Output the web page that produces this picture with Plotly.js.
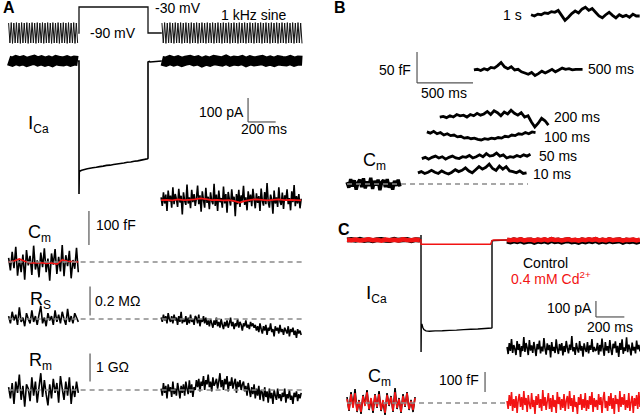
<!DOCTYPE html>
<html>
<head>
<meta charset="utf-8">
<script src="https://cdn.plot.ly/plotly-3.0.1.min.js"></script>
<style>
body { margin: 0; background: #fff; }
#fig { width: 640px; height: 416px; }
</style>
</head>
<body>
<div id="fig"></div>
<script>
// ---- panel A : stimulus (mV) ----
var vmSineLeft = [-67,-113,-66,-114,-67,-113,-66,-113,-67,-114,-66,-113,-67,-113,-66,-114,-67,-113,-66,-113,-67,-114,-66,-113,-67,-113,-66,-114,-67,-113,-66,-113,-67,-114,-66,-113,-67,-113,-66,-114,-67,-113,-66,-113,-67,-114,-66,-113,-67,-113,-66,-114,-67,-113];
var vmSineRight = [-67,-113,-66,-114,-67,-113,-66,-113,-67,-114,-66,-113,-67,-113,-66,-114,-67,-113,-66,-113,-67,-114,-66,-113,-67,-113,-66,-114,-67,-113,-66,-113,-67,-114,-66,-113,-67,-113,-66,-114,-67,-113,-66,-113,-67,-114,-66,-113,-67,-113,-66,-114,-67,-113,-66,-113,-67,-114,-66,-113,-67,-113,-66,-114,-67,-113,-66,-113,-67,-114,-66,-113,-67,-113,-66,-114,-67,-113,-66,-113,-67,-114,-66,-113,-67,-113,-66,-114,-67,-113,-66,-113,-67,-114,-66,-113,-67,-113,-66,-114,-67,-113,-66,-113,-67,-114];
var vmStepT = [-5, 0, 0, 500, 500, 600];
var vmStepV = [-90, -90, -30, -30, -90, -90];

// ---- panel A : I_Ca (pA) ----
var icaBandLeft = [2,-3,4,-1,3,-4,1,5,-2,3,-3,2,-4,4,0,-2,3,-3,2,0];
var icaBandRight = [1,-3,4,-2,3,-4,2,5,-1,3,-5,2,-3,4,1,-2,5,-3,2,-1,4,-4,3,-2,1,4,-3,2,-4,3,0,-2,4,-3,2,1];
var icaPulseT = [-8,0,0,2,8,20,40,60,80,100,125,150,175,200,225,250,275,300,325,350,375,400,425,450,475,497,500,500,510,515,600];
var icaPulseI = [0,0,-554,-462,-458,-455,-452,-449,-447,-445,-443,-440,-438,-435,-434,-431,-429,-427,-425,-422,-421,-418,-416,-413,-410,-407,-405,-4,-2,-4,0];

// ---- panel A : Cm (fF), Rs (MOhm), Rm (GOhm) ----
var cmLeftA = [12,-25,30,-18,45,-40,8,-30,22,-52,35,-10,18,-38,48,-22,5,-45,28,-15,40,-30,10,-55,25,-8,38,-35,15,-28,50,-42,20,-12,33,-48,6,-20,42,-30];
var cmLeftFitA = [0,3,9,2,-3,-3,-2,-4,-3,-6,6,2,1,0];
var cmRightA = [190,165,205,172,198,150,210,178,195,160,220,170,200,185,162,215,175,195,140,205,180,168,228,172,190,158,212,176,200,165,188,225,170,196,148,208,182,160,218,174,192,155,205,180,170,230,165,198,150,210,176,188,160,222,172,200,145,206,184,166,214,178,192,135,200,170,212,162,196,180,224,168,190,152,208,176,198,164,215,185,158,202,174,194,150,216,180,166,206,170,232,176,160,198,184,142,210,172,190,162,220,178,168,204,156,196,182,214,170,188,152,208,176,226,164,194,172,200,158,186];
var cmRightFitA = [182,183,181,184,182,183,184,187,185,182,183,181,182,180,175,180,183,184,183,181,183,184,182,183,182,181];
var rsLeftA = [0.02,-0.03,0.05,-0.01,0.03,-0.04,0.08,-0.02,0.01,-0.05,0.04,0.00,-0.03,0.06,-0.02,0.02,-0.04,0.03,0.09,-0.03,0.01,-0.05,0.04,-0.01,0.02,-0.04,0.06,-0.02,0.03,-0.03,0.05,0.00,-0.04,0.07,-0.02,0.02,-0.03,0.04,0.01,-0.02];
var rsRightA = [0.01,-0.02,0.03,-0.01,0.02,-0.03,0.04,0.00,-0.02,0.02,-0.03,0.03,-0.01,0.01,-0.04,0.02,-0.02,0.05,-0.03,0.00,-0.02,0.02,-0.04,0.01,-0.03,0.03,-0.02,0.00,-0.04,0.02,0.01,-0.03,0.03,-0.05,0.00,-0.02,0.02,-0.03,0.01,-0.04,
    -0.01,-0.05,0.00,-0.03,-0.06,-0.01,-0.04,0.01,-0.05,-0.02,-0.06,0.00,-0.04,-0.07,-0.02,-0.05,-0.01,-0.06,-0.03,0.01,-0.05,-0.02,-0.07,-0.03,-0.05,0.00,-0.06,-0.02,-0.04,-0.08,-0.03,-0.05,-0.01,-0.06,-0.04,-0.07,-0.02,-0.05,-0.03,-0.06,
    -0.04,-0.08,-0.05,-0.09,-0.03,-0.07,-0.10,-0.05,-0.08,-0.04,-0.11,-0.06,-0.08,-0.03,-0.09,-0.07,-0.12,-0.05,-0.08,-0.06,-0.10,-0.04,-0.09,-0.07,-0.11,-0.06,-0.08,-0.10,-0.05,-0.12,-0.07,-0.09,-0.06,-0.11,-0.08,-0.13,-0.07,-0.10,-0.08,-0.11];
var rmLeftA = [0.1,-0.3,0.25,-0.5,0.3,-0.1,0.55,-0.35,0.15,-0.6,0.2,0.05,-0.4,0.45,-0.2,0.3,-0.45,0.1,0.6,-0.25,0.35,-0.15,-0.55,0.2,-0.3,0.4,-0.1,0.25,-0.45,0.5,0.05,-0.35,0.3,-0.2,0.45,-0.5,0.15,-0.25,0.3,-0.1];
var rmRightA = [0.05,-0.2,0.25,-0.1,0.15,-0.3,0.2,-0.05,0.1,-0.25,0.3,-0.15,0.05,-0.2,0.25,0.0,-0.3,0.15,-0.1,0.2,-0.2,0.3,0.05,-0.15,0.35,-0.1,0.2,-0.25,0.1,0.0,
    0.35,0.1,0.4,-0.05,0.3,0.15,0.5,0.0,0.35,0.2,0.55,0.1,0.3,-0.05,0.45,0.15,0.25,0.4,0.05,0.3,0.6,0.1,0.35,0.0,0.4,0.2,0.5,-0.05,0.3,0.15,0.45,0.05,0.25,0.4,-0.1,0.3,0.1,0.35,0.0,0.2,
    0.3,-0.05,0.15,-0.2,0.25,0.0,-0.25,0.1,-0.15,0.2,-0.3,0.05,-0.2,0.15,-0.35,0.0,-0.1,-0.4,0.1,-0.25,-0.05,-0.45,0.05,-0.3,-0.1,-0.5,0.0,-0.2,-0.35,0.05,-0.3,-0.15,-0.4,-0.1,-0.25,0.05,-0.45,-0.15,-0.3,0.0,-0.35,-0.2,-0.5,-0.1,-0.25,-0.05,-0.4,-0.15,-0.3,-0.1];

// ---- panel B : Cm after pulses of different length (fF) ----
var bLabels = ['10 ms', '50 ms', '100 ms', '200 ms', '500 ms', '1 s'];
var bStart = [160, 195, 240, 355, 660, 1170];
var bBase = [3,-6,8,-4,6,-9,2,7,-5,9,-7,4,-3,10,-8,5,-2,7,-10,3,6,-5,8,-6,2,-9,5,-3,7,-4];
var bCm = [
  [18,20,17,19,22,19,17,21,18,16,19,23,20,22,26,21,18,23,28,24,27,32,25,22,29,24,28,21,20,18,21,17,18],
  [41,43,40,43,45,42,44,40,43,45,42,41,44,43,46,42,44,47,44,49,45,46,50,45,47,42,44,43,46,44,47,45,48],
  [84,82,85,81,83,79,81,78,79,76,77,74,75,73,74,72,71,73,72,74,73,75,74,77,76,79,78,81,80,83,81,84,83],
  [108,109,107,110,108,112,110,111,108,112,110,114,111,113,117,112,118,115,110,116,113,119,114,111,115,108,110,100,92,98,106,102,95],
  [184,185,183,186,184,188,187,191,196,189,186,189,184,185,181,179,177,180,175,178,182,179,182,185,181,184,187,185,186,184,185,185,185],
  [273,271,274,273,276,275,278,277,280,272,264,269,275,279,276,282,285,280,283,277,271,268,273,277,272,268,273,270,272,269,274,271,271]
];

// ---- panel C : control vs 0.4 mM Cd2+ ----
var cIcaCtlLeft = [0,3,-2,4,-3,1,-4,2,3,-1,-3,4,-2,1,3,-4,2,0];
var cIcaCdLeft = [2,-1,3,-3,0,4,-2,1,-4,3,-1,2,-3,4,0,-2,3,-1];
var cIcaCtlT = [-8,0,0,0.5,2,6,12,20,35,60,100,150,200,250,300,350,400,450,497,500,500,520,605];
var cIcaCtlI = [0,0,31,-700,-530,-525,-545,-560,-568,-570,-568,-567,-565,-563,-560,-558,-556,-553,-550,-548,-5,-3,0];
var cIcaCdT = [-8,0,0,490,500,510,605];
var cIcaCdI = [0,0,-27,-27,-3,0,0];
var cIcaCtlRight = [-4,-9,-2,-7,-1,-10,-5,-3,-11,-4,-8,-2,-9,0,-7,-3,-10,-4,-1,-9,-5,-11,-3,-8,-2,-7,0,-10,-4,-9,-1,-8,-5,-2,-11,-3,-7,-4,-10,-3];
var cIcaCdRight = [2,-2,3,-1,4,-3,1,2,-4,3,-1,4,-2,5,0,2,-3,1,4,-2,1,-4,3,-1,4,0,5,-3,2,-2,4,-1,1,3,-4,2,0,3,-3,2];
var cCmCtlLeft = [30,-40,55,-20,70,-45,15,-55,40,-10,65,-35,20,-50,45,-25,60,-40,10,-60,50,-15,35,-45,75,-30,25,-50,45,-20,55,-35,15,-45,30];
var cCmCdLeft = [20,-35,45,-25,50,-40,10,-45,35,-15,55,-30,25,-40,40,-20,45,-35,15,-50,40,-10,30,-40,55,-25,20,-45,35,-15,50,-30,10,-35,25];
var cCmCtlRight = [280,245,300,260,320,250,290,270,240,310,265,295,230,285,260,330,255,300,275,240,315,262,288,250,305,270,235,295,268,312,248,282,258,325,272,242,298,265,290,228,305,260,280,250,318,270,245,295,262,300,238,285,255,310,275,248,292,265,335,258,280,240,300,270,252,310,262,285,232,298,270,255,305,248,288,266,320,255,280,262,
    265,300,242,290,258,322,270,236,305,262,284,250,315,268,240,296,274,308,252,286,230,300,266,318,246,278,260,328,254,292,270,238,302,262,280,248,312,268,290,258];
var cCmCdRight = [10,-30,40,-15,55,-40,20,-25,35,-50,15,45,-20,30,-35,60,-10,25,-45,40,-5,-30,50,-20,15,-55,35,-10,45,-25,20,-40,65,-15,30,-35,10,50,-30,25,-45,40,-20,15,-50,55,-5,30,-35,20,-25,45,-40,10,35,-30,60,-15,25,-45,40,-20,5,-55,30,-10,45,-35,20,-25,50,-40,15,-30,35,-10,55,-45,25,-20,
    15,-35,45,-10,30,-50,20,55,-25,10,-40,35,-15,50,-30,25,-55,40,-5,20,-45,60,-20,30,-10,45,-35,15,-25,50,-40,5,35,-50,25,-15,40,-30,55,-20];

var W = 640, H = 416;
var RED = '#f21313';
var FONT = 'Liberation Sans, Arial, sans-serif';
var NOISE_W = 1.6;

// evenly spaced sample times
function times(t0, t1, n) {
    var out = [];
    for (var i = 0; i < n; i++) out.push(t0 + (t1 - t0) * i / (n - 1));
    return out;
}

// axes placed by pixel box + two calibration points
function lin(c1, v1, c2, v2) { return p => v1 + (p - c1) * (v2 - v1) / (c2 - c1); }
function xAx(pL, pR, c1, v1, c2, v2, anchor) {
    var f = lin(c1, v1, c2, v2);
    return {domain: [pL / W, pR / W], range: [f(pL), f(pR)], visible: false, anchor: anchor, fixedrange: true};
}
function yAx(pTop, pBot, c1, v1, c2, v2, anchor) {
    var f = lin(c1, v1, c2, v2);
    return {domain: [1 - pBot / H, 1 - pTop / H], range: [f(pBot), f(pTop)], visible: false, anchor: anchor, fixedrange: true};
}

function line(x, y, xa, ya, color, width) {
    return {type: 'scatter', mode: 'lines', x: x, y: y, xaxis: xa, yaxis: ya,
            line: {color: color, width: width, simplify: false},
            hoverinfo: 'skip', showlegend: false};
}

var traces = [
    // A
    line(times(-510, -10, vmSineLeft.length), vmSineLeft, 'x', 'y', '#111', 1),
    line(vmStepT, vmStepV, 'x', 'y', '#111', 1.3),
    line(times(601, 1616, vmSineRight.length), vmSineRight, 'x', 'y', '#111', 1),
    line(times(-510, -8, icaBandLeft.length), icaBandLeft, 'x', 'y2', '#000', 10),
    line(icaPulseT, icaPulseI, 'x', 'y2', '#000', 1.6),
    line(times(600, 1618, icaBandRight.length), icaBandRight, 'x', 'y2', '#000', 10),
    line(times(-510, -5, cmLeftA.length), cmLeftA, 'x', 'y3', '#000', NOISE_W),
    line(times(-510, -5, cmLeftFitA.length), cmLeftFitA, 'x', 'y3', RED, 1.6),
    line(times(595, 1610, cmRightA.length), cmRightA, 'x', 'y3', '#000', NOISE_W),
    line(times(595, 1610, cmRightFitA.length), cmRightFitA, 'x', 'y3', RED, 1.8),
    line(times(-510, -5, rsLeftA.length), rsLeftA, 'x', 'y4', '#000', NOISE_W),
    line(times(595, 1610, rsRightA.length), rsRightA, 'x', 'y4', '#000', NOISE_W),
    line(times(-510, -5, rmLeftA.length), rmLeftA, 'x', 'y5', '#000', NOISE_W),
    line(times(595, 1610, rmRightA.length), rmRightA, 'x', 'y5', '#000', NOISE_W),
    // B
    line(times(-473, 0, bBase.length), bBase, 'x2', 'y6', '#000', 3.4)
];
bCm.forEach(function (vals, i) {
    traces.push(line(times(bStart[i], bStart[i] + 970, vals.length), vals, 'x2', 'y6', '#000', 2.8));
});
traces.push(
    // C
    line(times(-521, -7, cIcaCtlLeft.length), cIcaCtlLeft, 'x3', 'y7', '#000', 5),
    line(times(-521, -7, cIcaCdLeft.length), cIcaCdLeft, 'x3', 'y7', RED, 4.5),
    line(cIcaCtlT, cIcaCtlI, 'x3', 'y7', '#000', 1.4),
    line(cIcaCdT, cIcaCdI, 'x3', 'y7', RED, 1.4),
    line(times(606, 1542, cIcaCtlRight.length), cIcaCtlRight, 'x3', 'y7', '#000', 6),
    line(times(606, 1542, cIcaCdRight.length), cIcaCdRight, 'x3', 'y7', RED, 4.5),
    line(times(-521, -42, cCmCtlLeft.length), cCmCtlLeft, 'x3', 'y8', '#000', NOISE_W),
    line(times(-521, -42, cCmCdLeft.length), cCmCdLeft, 'x3', 'y8', RED, NOISE_W),
    line(times(606, 1542, cCmCtlRight.length), cCmCtlRight, 'x3', 'y8', '#000', NOISE_W),
    line(times(606, 1542, cCmCdRight.length), cCmCdRight, 'x3', 'y8', RED, NOISE_W)
);

// scale bars and baselines
function seg(xa, ya, x0, y0, x1, y1, dash) {
    return {type: 'line', xref: xa, yref: ya, x0: x0, y0: y0, x1: x1, y1: y1,
            line: {color: dash ? '#8a8a8a' : '#555', width: dash ? 1.5 : 1.2, dash: dash ? '5px,4px' : 'solid'}};
}
var shapes = [
    seg('x', 'y2', 1225, -154, 1225, -254), seg('x', 'y2', 1225, -254, 1425, -254),
    seg('x', 'y3', 72, 150, 72, 50),
    seg('x', 'y4', 80, 0.225, 80, 0.025),
    seg('x', 'y5', 80, 1.3, 80, 0.3),
    seg('x', 'y3', -510, 0, 1623, 0, true),
    seg('x', 'y4', -510, 0, 1623, 0, true),
    seg('x', 'y5', -510, 0, 1623, 0, true),
    seg('x2', 'y6', 152, 213, 152, 163), seg('x2', 'y6', 152, 163, 652, 163),
    seg('x2', 'y6', -473, 0, 1143, 0, true),
    seg('x3', 'y7', 1232, -381, 1232, -481), seg('x3', 'y7', 1232, -481, 1432, -481),
    seg('x3', 'y8', 451, 155, 451, 55),
    seg('x3', 'y8', -521, 0, 606, 0, true)
];

function sub(main, s) {
    return main + '<sub><span style="font-size:12px">' + s + '</span></sub>';
}
function lab(text, px, py, size, anchor, color, bold) {
    return {xref: 'paper', yref: 'paper', x: px / W, y: 1 - py / H, text: bold ? '<b>' + text + '</b>' : text,
            showarrow: false, xanchor: anchor || 'left', yanchor: 'middle',
            font: {family: FONT, size: size, color: color || '#000'}};
}
var annotations = [
    lab('A', 1, 7, 16, 'left', '#000', true),
    lab('-30 mV', 153, 8, 14),
    lab('-90 mV', 88, 33, 14),
    lab('1 kHz sine', 219, 15, 14),
    lab(sub('I', 'Ca'), 26, 124, 19),
    lab('100 pA', 246, 112, 14, 'right'),
    lab('200 ms', 239, 129, 14),
    lab(sub('C', 'm'), 26, 233, 18),
    lab('100 fF', 94, 225, 14),
    lab(sub('R', 'S'), 28, 300, 18),
    lab('0.2 MΩ', 93, 301, 14),
    lab(sub('R', 'm'), 27, 361, 18),
    lab('1 GΩ', 94, 367, 14),
    lab('B', 332, 7, 16, 'left', '#000', true),
    lab('1 s', 524, 15, 14, 'right'),
    lab('50 fF', 413, 70, 14, 'right'),
    lab('500 ms', 419, 93, 14),
    lab(bLabels[4], 586, 69, 14),
    lab(bLabels[3], 552, 117, 14),
    lab(bLabels[2], 542, 137, 14),
    lab(bLabels[1], 537, 156, 14),
    lab(bLabels[0], 531, 174, 14),
    lab(sub('C', 'm'), 361, 161, 18),
    lab('C', 336, 229, 16, 'left', '#000', true),
    lab('Control', 521, 263, 14),
    lab('0.4 mM Cd<sup>2+</sup>', 509, 278, 14, 'left', RED),
    lab(sub('I', 'Ca'), 364, 294, 19),
    lab('100 pA', 594, 308, 14, 'right'),
    lab('200 ms', 585, 327, 14),
    lab(sub('C', 'm'), 366, 377, 18),
    lab('100 fF', 481, 380, 14, 'right')
];

var layout = {
    width: W, height: H,
    margin: {l: 0, r: 0, t: 0, b: 0},
    paper_bgcolor: '#fff', plot_bgcolor: 'rgba(0,0,0,0)',
    showlegend: false,
    font: {family: FONT},
    xaxis: xAx(0, 322, 79, 0, 148, 500, 'y'),
    xaxis2: xAx(330, 640, 400, 0, 456, 500, 'y6'),
    xaxis3: xAx(330, 640, 421, 0, 492, 500, 'y7'),
    yaxis: yAx(0, 50, 7, -30, 33, -90, 'x'),
    yaxis2: yAx(50, 200, 61, 0, 85, -100, 'x'),
    yaxis3: yAx(175, 290, 262, 0, 228, 100, 'x'),
    yaxis4: yAx(280, 345, 319, 0, 290, 0.2, 'x'),
    yaxis5: yAx(345, 416, 390, 0, 362, 1, 'x'),
    yaxis6: yAx(0, 200, 184, 0, 153, 50, 'x2'),
    yaxis7: yAx(222, 362, 240, 0, 256, -100, 'x3'),
    yaxis8: yAx(330, 416, 403, 0, 383, 100, 'x3'),
    shapes: shapes,
    annotations: annotations
};

Plotly.newPlot('fig', traces, layout, {staticPlot: true, displayModeBar: false});
</script>
</body>
</html>
